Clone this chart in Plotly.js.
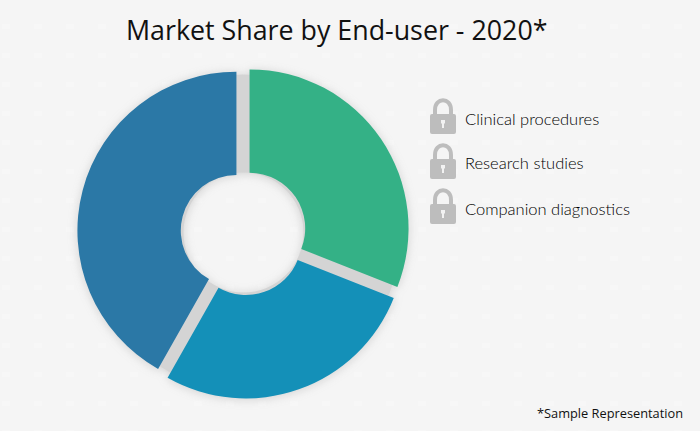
<!DOCTYPE html>
<html><head><meta charset="utf-8">
<script src="https://cdn.plot.ly/plotly-3.0.1.min.js"></script>
<style>
html,body{margin:0;padding:0;background-color:#f5f5f5;}
body{background-image:url("data:image/svg+xml,%3Csvg xmlns='http://www.w3.org/2000/svg' width='32' height='29'%3E%3Crect x='2' y='24' width='8' height='8' fill='%23f7f7f7'/%3E%3C/svg%3E");}
#c{width:700px;height:431px;}
.pielayer{filter:drop-shadow(0 1px 5px rgba(130,130,130,.3));}
</style></head><body><div id="c"></div>
<script>
const W=700,H=431;
const categories=["Clinical procedures","Research studies","Companion diagnostics"];
const shares=[31,27.2,41.8];
const colors=["#34b186","#1490b8","#2b78a6"];
const titleText="Market Share by End-user - 2020*";
const noteText="*Sample Representation";
const legendY=[119,164,209];

const cx=243.5,cy=232.5,R=159,pull=0.046,hole=0.35,ringR=158,ringHole=0.38;
const px=x=>x/W, py=y=>1-y/H;
const outer=R*(1+pull);
function lockPath(y){
  const l=430,r=456;
  const X=v=>px(v).toFixed(5),Y=v=>py(v).toFixed(5);
  return {
    body:`M${X(l+2)},${Y(y-5)} L${X(r-2)},${Y(y-5)} Q${X(r)},${Y(y-5)} ${X(r)},${Y(y-3)} L${X(r)},${Y(y+13)} Q${X(r)},${Y(y+15)} ${X(r-2)},${Y(y+15)} L${X(l+2)},${Y(y+15)} Q${X(l)},${Y(y+15)} ${X(l)},${Y(y+13)} L${X(l)},${Y(y-3)} Q${X(l)},${Y(y-5)} ${X(l+2)},${Y(y-5)} Z`,
    shackle:`M${X(l+5)},${Y(y-5)} L${X(l+5)},${Y(y-9)} C${X(l+5)},${Y(y-22)} ${X(r-5)},${Y(y-22)} ${X(r-5)},${Y(y-9)} L${X(r-5)},${Y(y-5)}`,
    key:`M${X(l+11)},${Y(y+1)} L${X(r-11)},${Y(y+1)} L${X(r-11)},${Y(y+4)} L${X(r-12)},${Y(y+5)} L${X(r-12)},${Y(y+9)} L${X(l+12)},${Y(y+9)} L${X(l+12)},${Y(y+5)} L${X(l+11)},${Y(y+4)} Z`
  };
}
const shapes=[];
legendY.forEach(y=>{
  const p=lockPath(y);
  shapes.push({type:"path",xref:"paper",yref:"paper",path:p.shackle,line:{color:"#bdbdbd",width:4},fillcolor:"rgba(0,0,0,0)"});
  shapes.push({type:"path",xref:"paper",yref:"paper",path:p.body,line:{width:0},fillcolor:"#bdbdbd"});
  shapes.push({type:"path",xref:"paper",yref:"paper",path:p.key,line:{width:0},fillcolor:"#f2f2f2"});
});
const annotations=categories.map((c,i)=>({
  text:c,xref:"paper",yref:"paper",x:px(463),y:py(legendY[i]-0.5),xanchor:"left",yanchor:"middle",showarrow:false,
  font:{family:"Lato, sans-serif",size:16.5,color:"#000",weight:300}
}));
annotations.push({text:noteText,xref:"paper",yref:"paper",x:px(685),y:py(413),xanchor:"right",yanchor:"middle",showarrow:false,
  font:{family:"Open Sans, sans-serif",size:12.8,color:"#111"}});
annotations.push({text:titleText,xref:"paper",yref:"paper",x:px(336),y:py(30),xanchor:"center",yanchor:"middle",showarrow:false,
  font:{family:"Open Sans, sans-serif",size:26.8,color:"#111"}});

const data=[
 {type:"pie",values:[1],labels:["gap"],marker:{colors:["#d4d4d4"],line:{width:0}},textinfo:"none",hoverinfo:"skip",showlegend:false,sort:false,hole:ringHole,
  domain:{x:[px(cx-ringR),px(cx+ringR)],y:[py(cy+ringR),py(cy-ringR)]}},
 {type:"pie",values:shares,labels:categories,marker:{colors:colors,line:{width:0}},textinfo:"none",hoverinfo:"label+percent",showlegend:false,sort:false,direction:"clockwise",rotation:0,hole:hole,pull:pull,
  domain:{x:[px(cx-outer),px(cx+outer)],y:[py(cy+outer),py(cy-outer)]}}
];
Plotly.newPlot("c",data,{width:W,height:H,margin:{l:0,r:0,t:0,b:0},paper_bgcolor:"rgba(0,0,0,0)",plot_bgcolor:"rgba(0,0,0,0)",showlegend:false,shapes,annotations},{displayModeBar:false,staticPlot:true});
</script></body></html>
